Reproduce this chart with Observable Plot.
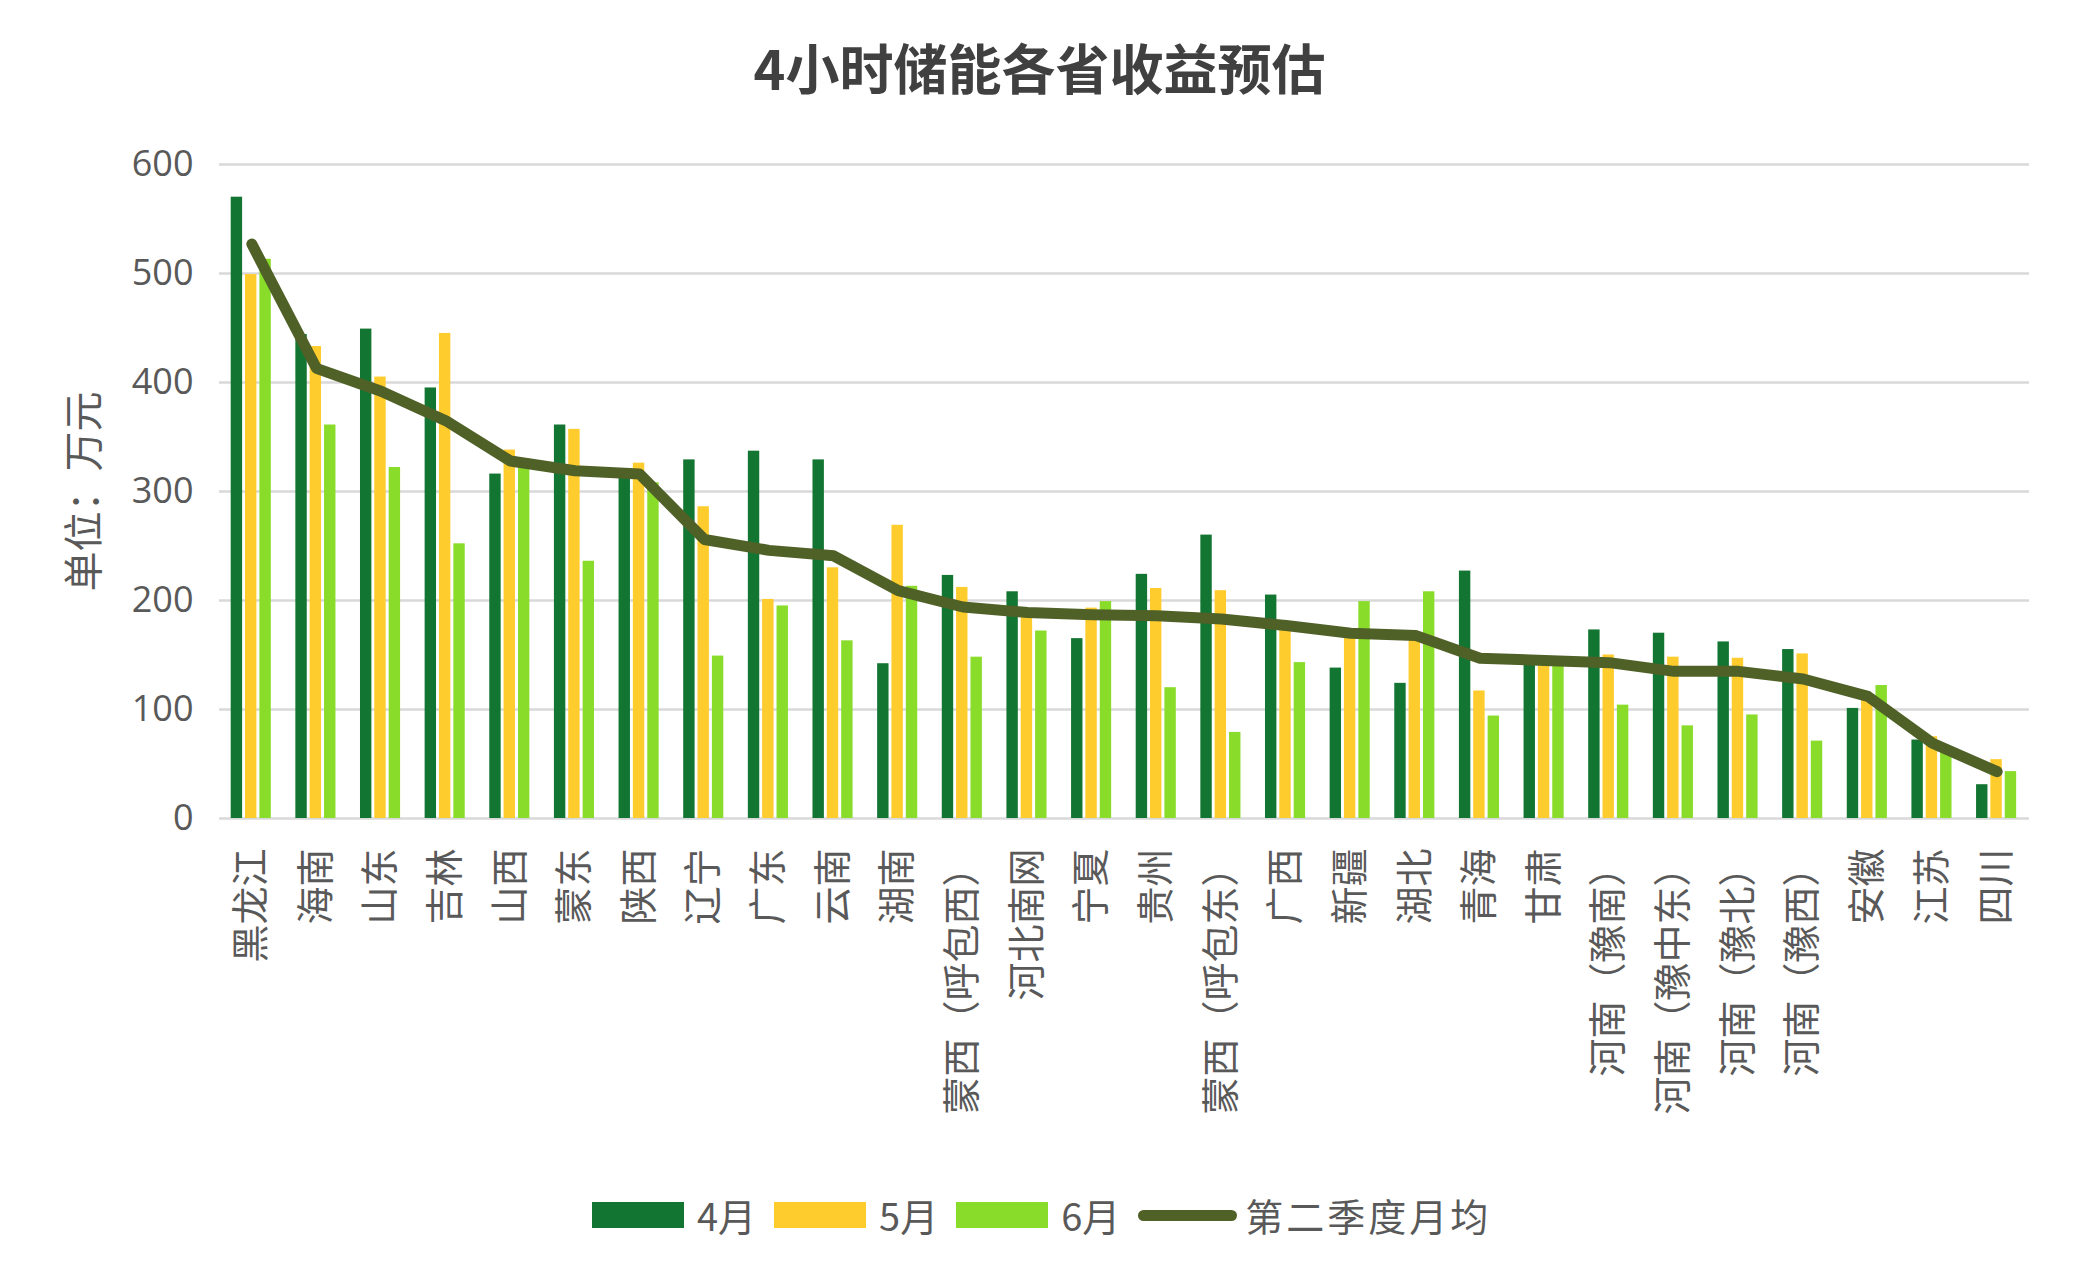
<!DOCTYPE html>
<html>
<head>
<meta charset="utf-8">
<script src="https://cdn.jsdelivr.net/npm/d3@7"></script>
<script src="https://cdn.jsdelivr.net/npm/@observablehq/plot@0.6"></script>
<style>
  html, body { margin: 0; padding: 0; background: #fff; }
  #page { position: relative; width: 2079px; height: 1282px; overflow: hidden; background: #fff;
          font-family: "Noto Sans CJK SC", "Open Sans", sans-serif; }
  #title { position: absolute; left: 0; top: 30px; width: 2079px; text-align: center;
           font-size: 54px; font-weight: 700; color: #404040; line-height: 74px; }
  #chart { position: absolute; left: 0; top: 110px; }
  #legend { position: absolute; left: 592px; top: 1190px; height: 50px; display: flex; align-items: center; }
  .sw { width: 92px; height: 26px; margin-right: 13px; }
  .ln { width: 99px; height: 11px; border-radius: 5.5px; margin-right: 8px; }
  .lt { font-size: 38px; color: #595959; margin-right: 18px; line-height: 50px; white-space: nowrap; }
  .lt.last { letter-spacing: 3px; }
  svg g[aria-label="x-axis tick label"] { font-family: "Noto Sans CJK SC", sans-serif; font-size: 38px; }
  svg g[aria-label="y-axis tick label"] { font-family: "Open Sans", "Noto Sans", sans-serif; font-size: 36px; }
</style>
</head>
<body>
<div id="page">
  <div id="title"></div>
  <div id="chart"></div>
  <div id="legend"></div>
</div>
<script>
const titleText = "4小时储能各省收益预估";
const yTitle = "单位：万元";
const categories = ["黑龙江","海南","山东","吉林","山西","蒙东","陕西","辽宁","广东","云南","湖南","蒙西（呼包西）","河北南网","宁夏","贵州","蒙西（呼包东）","广西","新疆","湖北","青海","甘肃","河南（豫南）","河南（豫中东）","河南（豫北）","河南（豫西）","安徽","江苏","四川"];
const apr = [570,444,449,395,316,361,313,329,337,329,142,223,208,165,224,260,205,138,124,227,147,173,170,162,155,101,72,31];
const may = [499,433,405,445,338,357,326,286,201,230,269,212,187,193,211,209,180,170,170,117,140,150,148,147,151,112,75,54];
const jun = [513,361,322,252,330,236,308,149,195,163,213,148,172,199,120,79,143,199,208,94,145,104,85,95,71,122,60,43];
const avg = [527,413,392,365,328,319,316,256,246,241,209,194,189,187,186,183,177,170,168,147,145,143,135,135,128,112,69,43];
const yTicks = [0,100,200,300,400,500,600];
const seriesNames = ["4月","5月","6月"];
const lineName = "第二季度月均";

const colors = {apr: "#137532", may: "#FECC2C", jun: "#89DC2A", line: "#506128"};

document.getElementById("title").textContent = titleText;

const rows = categories.map((c, i) => ({cat: c, apr: apr[i], may: may[i], jun: jun[i], avg: avg[i]}));

const W = 2079, H = 1060;
const mL = 219, mR = 50, mT = 54, mB = 352;
const step = (W - mL - mR) / categories.length;
const bw = 11.4;
const offs = [11.7, 26.0, 40.4];

const chart = Plot.plot({
  width: W,
  height: H,
  marginLeft: mL,
  marginRight: mR,
  marginTop: mT,
  marginBottom: mB,
  style: {color: "#595959", background: "#fff", fontFamily: "'Open Sans','Noto Sans CJK SC',sans-serif"},
  x: {type: "band", domain: categories, padding: 0, round: false},
  y: {domain: [0, 600]},
  marks: [
    Plot.gridY(yTicks, {stroke: "#d9d9d9", strokeOpacity: 1, strokeWidth: 2.5}),
    Plot.barY(rows, {x: "cat", y: "apr", fill: colors.apr, insetLeft: offs[0], insetRight: step - offs[0] - bw}),
    Plot.barY(rows, {x: "cat", y: "may", fill: colors.may, insetLeft: offs[1], insetRight: step - offs[1] - bw}),
    Plot.barY(rows, {x: "cat", y: "jun", fill: colors.jun, insetLeft: offs[2], insetRight: step - offs[2] - bw}),
    Plot.line(rows, {x: "cat", y: "avg", stroke: colors.line, strokeWidth: 11, strokeLinecap: "round", strokeLinejoin: "round"}),
    Plot.axisY(yTicks, {tickSize: 0, tickPadding: 26, fontSize: 36, label: null}),
    Plot.axisX({tickSize: 0, tickPadding: 30, tickRotate: -90, fontSize: 38, label: null}),
    Plot.text([yTitle], {frameAnchor: "left", textAnchor: "middle", dx: -134, rotate: -90, text: d => d, fontSize: 40, fill: "#595959", fontFamily: "Noto Sans CJK SC"})
  ]
});
document.getElementById("chart").appendChild(chart);

// legend
const legend = document.getElementById("legend");
const swColors = [colors.apr, colors.may, colors.jun];
seriesNames.forEach((name, i) => {
  const sw = document.createElement("div");
  sw.className = "sw";
  sw.style.background = swColors[i];
  legend.appendChild(sw);
  const t = document.createElement("div");
  t.className = "lt";
  t.textContent = name;
  legend.appendChild(t);
});
const ln = document.createElement("div");
ln.className = "ln";
ln.style.background = colors.line;
legend.appendChild(ln);
const lt = document.createElement("div");
lt.className = "lt last";
lt.textContent = lineName;
legend.appendChild(lt);
</script>
</body>
</html>
